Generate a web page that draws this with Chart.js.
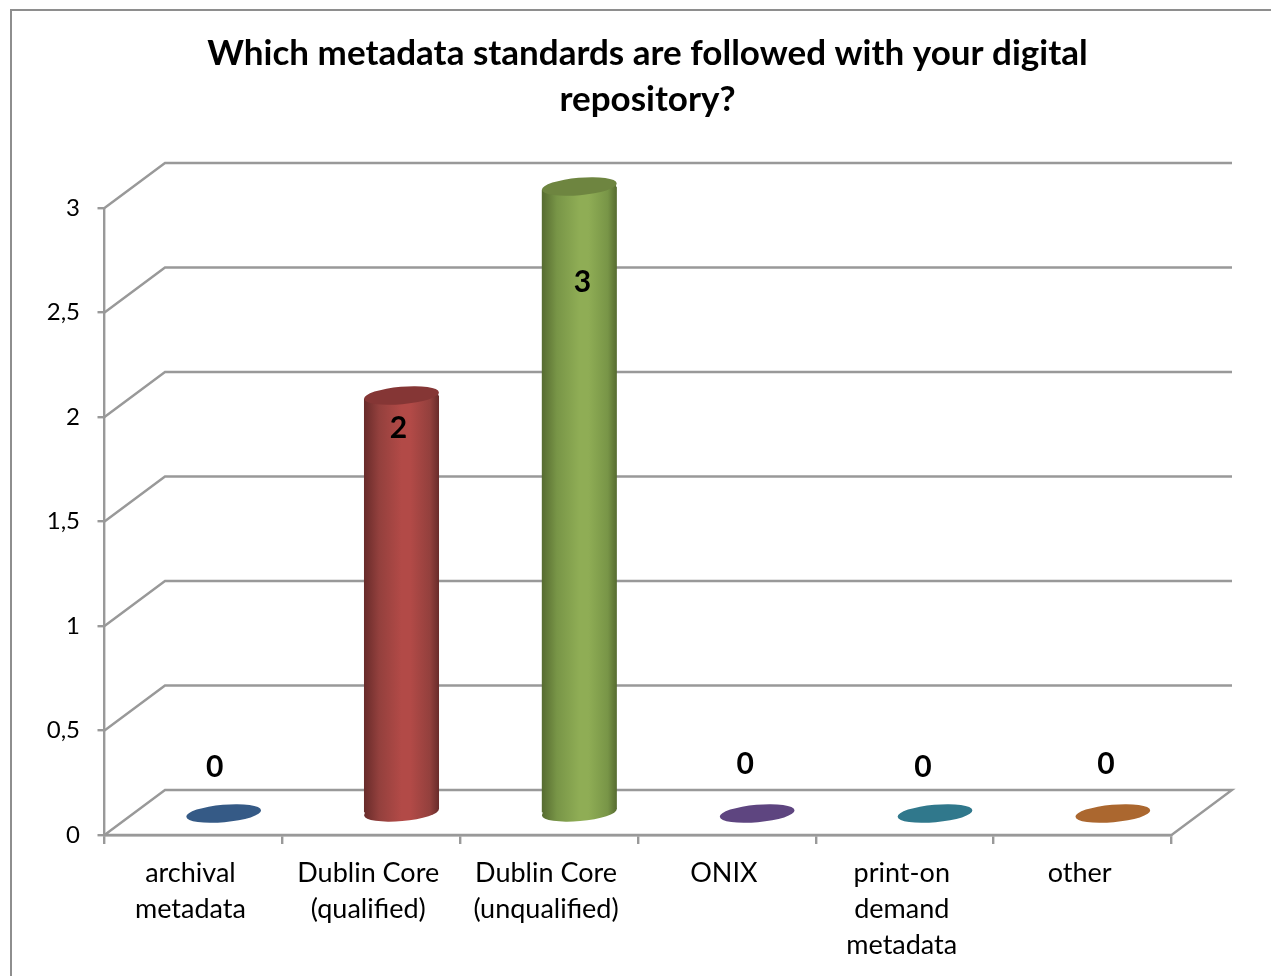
<!DOCTYPE html>
<html>
<head>
<meta charset="utf-8">
<script src="https://cdn.jsdelivr.net/npm/chart.js@4"></script>
<style>
html,body{margin:0;padding:0;background:#fff;overflow:hidden;width:1271px;height:976px}
canvas{display:block}
</style>
</head>
<body>
<canvas id="c" width="1295" height="976"></canvas>
<script>
const titleLines = ['Which metadata standards are followed with your digital', 'repository?'];
const categories = [['archival', 'metadata'], ['Dublin Core', '(qualified)'], ['Dublin Core', '(unqualified)'], 'ONIX', ['print-on', 'demand', 'metadata'], 'other'];
const values = [0, 2, 3, 0, 0, 0];
const capColors = ['#355A86', '#853635', '#6E8540', '#5E4580', '#30788C', '#AB672F'];
const edgeColors = ['#233c5a', '#682B2A', '#566B30', '#3e2e55', '#20505d', '#72451f'];
const softColors = ['#3d6490', '#93403D', '#789547', '#65507f', '#3a8698', '#bf7436'];
const midColors = ['#4F81BD', '#B24A47', '#8FAD55', '#8064A2', '#4BACC6', '#F79646'];
const labelNudgeX = [-9, -3, 3, -12, -12, -7];
const labelNudgeY = [3, 33, 96, 0, 3, 0];
const labelLift = [49, 0, 0, 49, 49, 49];
const FONT = 'Lato, Carlito, sans-serif';
const LINE = '#999999';
const DEPTH_X = 60.5, DEPTH_Y = 45;
const TILT = -5 * Math.PI / 180;
const CAP_RY = 8.8;

function barShift() { return {x: DEPTH_X / 2, y: -DEPTH_Y / 2 + 1}; }
function gradientFor(chart, i) {
  const xs = chart.scales.x;
  if (!xs || !xs.width) return midColors[i];
  const cx = xs.getPixelForValue(i), w = (xs.width / categories.length) * 0.422;
  const g = chart.ctx.createLinearGradient(cx - w / 2, 0, cx + w / 2, 0);
  g.addColorStop(0, edgeColors[i]);
  g.addColorStop(0.2, softColors[i]);
  g.addColorStop(0.5, midColors[i]);
  g.addColorStop(0.62, midColors[i]);
  g.addColorStop(0.88, softColors[i]);
  g.addColorStop(1, edgeColors[i]);
  return g;
}
const walls = {
  id: 'walls',
  afterLayout(chart) {
    const t = chart.titleBlock;
    t.left = 0; t.right = chart.width; t.width = chart.width;
  },
  beforeDraw(chart) {
    const c = chart.ctx, ys = chart.scales.y, a = chart.chartArea;
    c.save();
    c.fillStyle = '#fff';
    c.fillRect(0, 0, chart.width, chart.height);
    c.strokeStyle = '#8e8e8e'; c.lineWidth = 2;
    c.strokeRect(11, 10, chart.width + 40, chart.height + 40);
    c.strokeStyle = LINE; c.lineWidth = 2.4; c.lineJoin = 'miter';
    ys.ticks.forEach(t => {
      const y = ys.getPixelForValue(t.value);
      c.beginPath();
      c.moveTo(a.left, y);
      c.lineTo(a.left + DEPTH_X, y - DEPTH_Y);
      c.lineTo(a.right + DEPTH_X, y - DEPTH_Y);
      if (t.value === 0) { c.lineTo(a.right, y); c.lineTo(a.left, y); }
      c.stroke();
    });
    c.restore();
  },
  beforeDatasetsDraw(chart) {
    const c = chart.ctx, s = barShift(), meta = chart.getDatasetMeta(0);
    c.save();
    c.translate(s.x, s.y);
    meta.data.forEach((el, i) => {
      if (!values[i]) return;
      const w = el.width / 2, d = w * Math.sin(-TILT), n = w - 0.8;
      c.fillStyle = gradientFor(chart, i);
      c.beginPath();
      c.ellipse(el.x, el.base, w, CAP_RY, TILT, 0, Math.PI * 2);
      c.fill();
      c.beginPath();
      c.moveTo(el.x - n, el.base + d); c.lineTo(el.x + n, el.base - d);
      c.lineTo(el.x + n, el.base - 6); c.lineTo(el.x - n, el.base - 6);
      c.closePath(); c.fill();
      c.beginPath();
      c.moveTo(el.x - n, el.y + d); c.lineTo(el.x + n, el.y - d);
      c.lineTo(el.x + n, el.y + 6); c.lineTo(el.x - n, el.y + 6);
      c.closePath(); c.fill();
    });
    c.beginPath();
    meta.data.forEach((el, i) => {
      if (!values[i]) return;
      const w = el.width / 2 + 1, d = w * Math.sin(-TILT);
      c.moveTo(el.x - w, el.y + d);
      c.lineTo(el.x + w, el.y - d);
      c.lineTo(el.x + w, el.base - d);
      c.lineTo(el.x - w, el.base + d);
      c.closePath();
    });
    c.clip();
  },
  afterDatasetsDraw(chart) {
    const c = chart.ctx, s = barShift(), meta = chart.getDatasetMeta(0);
    c.restore();
    c.save();
    c.translate(s.x, s.y);
    meta.data.forEach((el, i) => {
      c.fillStyle = capColors[i];
      c.beginPath();
      c.ellipse(el.x, el.y, el.width / 2, CAP_RY, TILT, 0, Math.PI * 2);
      c.fill();
    });
    c.restore();
    c.save();
    c.fillStyle = '#000';
    c.font = 'bold 30px ' + FONT;
    c.textAlign = 'center'; c.textBaseline = 'middle';
    meta.data.forEach((el, i) => {
      c.fillText(String(values[i]), el.x + s.x + labelNudgeX[i], el.y + s.y - labelLift[i] + labelNudgeY[i]);
    });
    c.restore();
  }
};
new Chart(document.getElementById('c'), {
  type: 'bar',
  data: {
    labels: categories,
    datasets: [{
      data: values,
      borderWidth: 0,
      barPercentage: 0.422,
      categoryPercentage: 1,
      backgroundColor: ctx => gradientFor(ctx.chart, ctx.dataIndex)
    }]
  },
  options: {
    responsive: false,
    animation: false,
    layout: {padding: {left: 0, right: 123.5, top: 0, bottom: 0}},
    plugins: {
      legend: {display: false},
      tooltip: {enabled: false},
      title: {
        display: true,
        text: titleLines,
        color: '#000',
        font: {family: FONT, size: 35, weight: 'bold', lineHeight: 46 / 35},
        padding: {top: 31, bottom: 85}
      }
    },
    scales: {
      x: {
        afterFit(s) { s.height = 141; },
        border: {color: LINE, width: 2.4},
        grid: {drawOnChartArea: false, drawTicks: true, tickLength: 9, color: LINE, lineWidth: 2.4},
        ticks: {color: '#000', padding: 11, labelOffset: -3, maxRotation: 0, autoSkip: false,
                font: {family: FONT, size: 27, lineHeight: 36 / 27}}
      },
      y: {
        min: 0, max: 3,
        afterFit(s) { s.width = 104.5; },
        border: {color: LINE, width: 2.4},
        grid: {drawOnChartArea: false, drawTicks: true, tickLength: 7, color: LINE, lineWidth: 2.4},
        ticks: {stepSize: 0.5, color: '#000', padding: 17.5,
                callback: v => String(v).replace('.', ','),
                font: {family: FONT, size: 24}}
      }
    }
  },
  plugins: [walls]
});
</script>
</body>
</html>
